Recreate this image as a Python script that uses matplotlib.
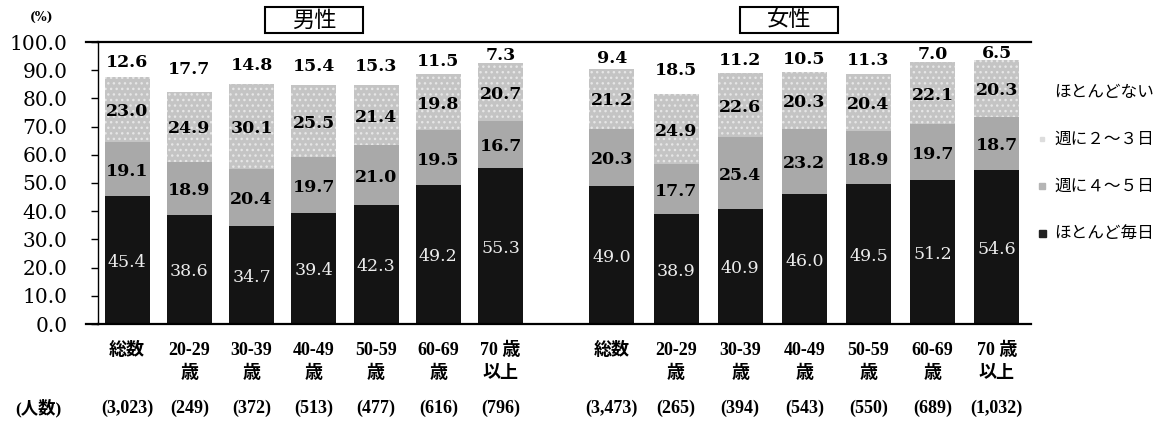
#plot.py
#stacked bars: how often people do it, by sex and age group

import numpy as np
import matplotlib
matplotlib.use('Agg')
import matplotlib.pyplot as plt
from matplotlib.patches import Rectangle

categories = ['総数', '20-29\n歳', '30-39\n歳', '40-49\n歳', '50-59\n歳', '60-69\n歳', '70 歳\n以上']
male_counts = ['(3,023)', '(249)', '(372)', '(513)', '(477)', '(616)', '(796)']
female_counts = ['(3,473)', '(265)', '(394)', '(543)', '(550)', '(689)', '(1,032)']

male_daily = [45.4, 38.6, 34.7, 39.4, 42.3, 49.2, 55.3]
male_4to5 = [19.1, 18.9, 20.4, 19.7, 21.0, 19.5, 16.7]
male_2to3 = [23.0, 24.9, 30.1, 25.5, 21.4, 19.8, 20.7]
male_rarely = [12.6, 17.7, 14.8, 15.4, 15.3, 11.5, 7.3]

female_daily = [49.0, 38.9, 40.9, 46.0, 49.5, 51.2, 54.6]
female_4to5 = [20.3, 17.7, 25.4, 23.2, 18.9, 19.7, 18.7]
female_2to3 = [21.2, 24.9, 22.6, 20.3, 20.4, 22.1, 20.3]
female_rarely = [9.4, 18.5, 11.2, 10.5, 11.3, 7.0, 6.5]

legend_labels = ['ほとんどない', '週に２〜３日', '週に４〜５日', 'ほとんど毎日']

JP = 'Noto Sans CJK JP'
W, H = 1173, 421  # figure size in px, used to place things by pixel


def fx(px):
	return px / W


def fy(py):
	return 1 - py / H


def draw_group(ax, x, daily, d45, d23, rarely, width):
	daily, d45, d23, rarely = map(np.array, (daily, d45, d23, rarely))
	ax.bar(x, daily, width, color='#141414', linewidth=0)
	ax.bar(x, d45, width, bottom=daily, color='#a9a9a9', linewidth=0)
	ax.bar(x, d23, width, bottom=daily + d45, color='#c4c4c4', linewidth=0, hatch='...')
	top = daily + d45 + d23
	for i in range(len(x)):
		ax.text(x[i], daily[i] / 2 - 0.8, '%.1f' % daily[i], ha='center', va='center',
				color='#ececec', fontsize=12.5, family='DejaVu Serif')
		ax.text(x[i], daily[i] + d45[i] / 2 - 0.8, '%.1f' % d45[i], ha='center', va='center',
				fontsize=12.5, fontweight='bold', family='DejaVu Serif')
		ax.text(x[i], daily[i] + d45[i] + d23[i] / 2 - 0.8, '%.1f' % d23[i], ha='center', va='center',
				fontsize=12.5, fontweight='bold', family='DejaVu Serif')
		ax.text(x[i], top[i] + rarely[i] / 2 - 1.0, '%.1f' % rarely[i], ha='center', va='center',
				fontsize=12.5, fontweight='bold', family='DejaVu Serif')


def main():
	plt.rcParams['hatch.color'] = '#e6e6e6'
	plt.rcParams['hatch.linewidth'] = 1.0
	fig = plt.figure(figsize=(W / 100, H / 100), dpi=100)
	ax = fig.add_axes([fx(98), fy(324), (1031 - 98) / W, (324 - 42) / H])

	n = len(categories)
	width = 0.712
	x_male = np.arange(n) * 0.985
	x_female = 7.67 + np.arange(n) * 1.015  # small gap between the two groups

	draw_group(ax, x_male, male_daily, male_4to5, male_2to3, male_rarely, width)
	draw_group(ax, x_female, female_daily, female_4to5, female_2to3, female_rarely, width)

	ax.set_xlim(-0.459, 14.30)
	ax.set_ylim(0, 100)
	ax.set_yticks(np.arange(0, 101, 10))
	ax.set_yticklabels(['%.1f' % v for v in np.arange(0, 101, 10)], family='DejaVu Serif', fontsize=14.5)
	ax.tick_params(axis='y', length=5, width=1.0, pad=17)

	xs = np.concatenate([x_male, x_female])
	ax.set_xticks(xs)
	ax.set_xticklabels(categories * 2, family=['Liberation Serif', JP], fontweight='bold',
					   fontsize=13, linespacing=1.45)
	ax.tick_params(axis='x', length=0, pad=13)

	for s in ['right']:
		ax.spines[s].set_visible(False)
	ax.spines['top'].set_linewidth(1.6)
	ax.spines['bottom'].set_linewidth(1.6)
	ax.spines['left'].set_linewidth(1.0)
	# lines at the top and bottom run a bit past the y axis
	ax.axhline(100, xmin=-12 / 933, xmax=0, color='black', lw=1.6, clip_on=False)
	ax.axhline(0, xmin=-12 / 933, xmax=0, color='black', lw=1.6, clip_on=False)

	# sample sizes under the labels
	trans = ax.get_xaxis_transform()
	for x, c in zip(xs, male_counts + female_counts):
		ax.text(x, -(408 - 324) / 282, c, transform=trans, ha='center', va='center',
				fontsize=13, fontweight='bold', family=['Liberation Serif', JP])
	fig.text(fx(38), fy(408), '(人数)', ha='center', va='center', fontsize=12.5,
			 fontweight='bold', family=['Liberation Serif', JP])

	fig.text(fx(42), fy(17), '(%)', ha='center', va='center', fontsize=9, fontweight='bold',
			 family='DejaVu Serif')

	# boxed group titles
	for name, left in [('男性', 265), ('女性', 740)]:
		fig.add_artist(Rectangle((fx(left), fy(33)), 98 / W, 26 / H, fill=False, lw=1.5,
								 edgecolor='black', transform=fig.transFigure))
		fig.text(fx(left + 49), fy(20), name, ha='center', va='center', fontsize=16, family=JP)

	# legend drawn by hand, top to bottom
	marker_colors = ['white', '#dddddd', '#b5b5b5', '#222222']
	marker_sizes = [0, 4, 6, 7]
	for i, (lab, col, ms) in enumerate(zip(legend_labels, marker_colors, marker_sizes)):
		y = 92 + i * 47
		if ms:
			fig.add_artist(Rectangle((fx(1042 - ms / 2), fy(y + ms / 2)), ms / W, ms / H,
									 color=col, transform=fig.transFigure))
		fig.text(fx(1054), fy(y), lab, ha='left', va='center', fontsize=12, family=JP)

	fig.savefig('out.png', dpi=100)


if __name__ == '__main__': main()
